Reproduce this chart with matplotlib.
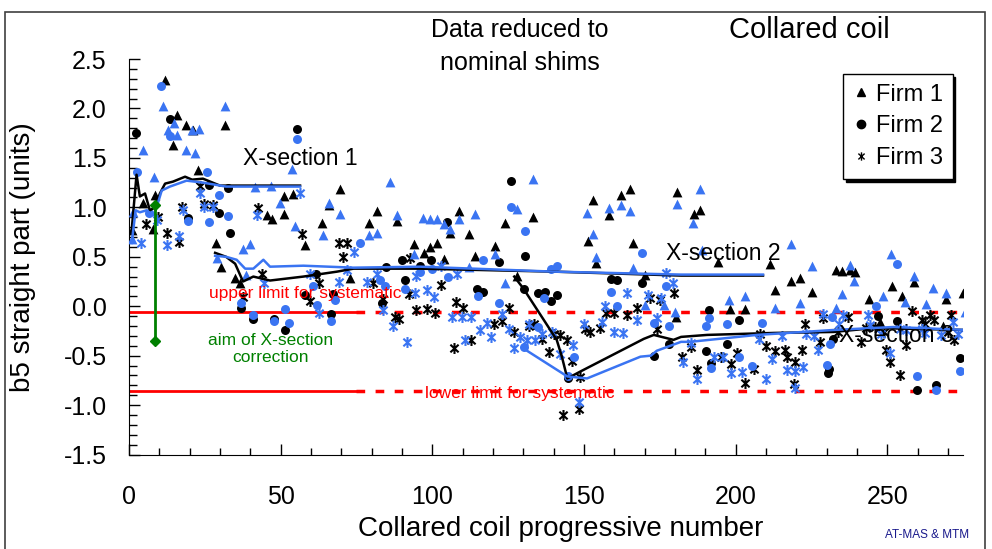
import numpy as np
import matplotlib.pyplot as plt
from matplotlib.lines import Line2D
from matplotlib.patches import Rectangle
from matplotlib.path import Path
from matplotlib.ticker import MultipleLocator

plt.rcParams['font.family'] = ['Liberation Sans', 'DejaVu Sans']

# Firm 1 (triangles): measured (black) and reduced to nominal shims (blue)
f1_black_x = [0.9, 4.7, 7.8, 8.6, 11.9, 14.6, 15.9, 18.8, 21.0, 22.9, 28.7, 30.3, 31.7, 35.0, 36.5,
              45.4, 47.0, 51.0, 51.0, 54.0, 58.1, 63.6, 65.8, 69.6, 72.9, 79.0, 81.7, 88.3, 93.9,
              97.1, 99.1, 101.7, 104.0, 105.7, 108.8, 112.0, 114.0, 120.8, 123.9, 128.0, 133.1,
              151.3, 152.9, 154.1, 158.2, 162.3, 165.1, 166.2, 170.0, 180.2, 180.8, 186.3, 188.1,
              194.2, 198.2, 203.0, 211.3, 212.9, 218.1, 221.2, 225.0, 233.0, 234.9, 237.8, 239.3,
              244.0, 247.5, 251.6, 254.9, 258.8, 268.2, 269.3, 275.0]
f1_black_y = [0.77, 1.04, 0.78, 1.12, 2.29, 1.63, 1.93, 1.83, 1.78, 1.38, 0.64, 0.40, 1.83, 0.29, 0.24,
              0.92, 0.88, 0.93, 1.11, 1.14, 0.62, 0.84, 1.02, 1.19, 0.29, 0.84, 0.96, 0.86, 0.63,
              0.54, 0.60, 0.64, 0.48, 0.74, 0.96, 0.73, 0.51, 0.61, 0.84, 0.31, 0.90,
              0.66, 1.07, 0.44, 0.92, 1.12, 1.19, 0.64, 0.32, -0.11, 1.16, 0.93, 0.97,
              0.45, -0.03, -0.03, 0.43, 0.16, 0.26, 0.29, 0.14, 0.37, 0.36, 0.37, 0.35,
              0.07, -0.16, 0.20, 0.10, 0.25, -0.20, 0.07, 0.13]
f1_blue_x = [0.9, 1.4, 4.7, 8.4, 11.3, 13.0, 14.9, 16.0, 18.8, 20.7, 21.8, 23.1, 28.9, 31.7, 37.5,
             38.6, 39.9, 41.6, 46.8, 49.8, 53.7, 54.8, 63.8, 66.1, 69.6, 79.0, 81.7, 85.9, 88.3,
             93.9, 96.9, 99.1, 101.7, 104.0, 105.7, 108.7, 112.0, 114.0, 120.8, 124.1, 128.0,
             133.2, 151.1, 153.1, 154.1, 158.2, 162.3, 165.1, 166.2, 170.0, 176.2, 180.0, 180.8,
             186.0, 188.2, 188.9, 197.9, 203.0, 212.9, 218.1, 221.2, 225.0, 233.1, 234.9, 237.8,
             239.0, 248.4, 251.3, 255.7, 258.8, 262.8, 265.1, 269.3, 275.7]
f1_blue_y = [0.68, 0.95, 1.58, 1.31, 2.02, 1.78, 1.85, 1.73, 1.58, 1.78, 1.55, 1.79, 0.49, 2.02, 0.58,
             0.32, 0.63, 1.21, 1.22, 1.04, 1.39, 0.81, 0.72, 1.04, 0.93, 0.72, 0.74, 1.26, 0.92,
             0.53, 0.89, 0.88, 0.88, 0.83, 0.78, 0.88, 0.40, 0.93, 0.53, 0.24, 0.98,
             1.29, 0.94, 0.73, 0.50, 0.99, 1.02, 0.96, 0.39, 0.01, 0.01, -0.06, 1.03,
             0.84, 1.19, 0.57, 0.06, 0.10, -0.02, 0.63, 0.03, 0.41, -0.02, 0.12, 0.42,
             0.26, 0.10, 0.53, 0.04, 0.31, 0.02, 0.18, 0.13, -0.06]

# Firm 2 (circles)
f2_black_x = [2.4, 13.5, 19.6, 26.5, 29.8, 32.8, 33.3, 36.9, 40.8, 47.8, 51.5, 55.3, 58.1, 61.8,
              66.6, 67.4, 83.4, 84.6, 90.0, 91.1, 95.8, 99.7, 104.8, 114.7, 116.7, 121.9, 126.0,
              130.2, 130.7, 134.8, 137.0, 139.0, 141.2, 144.7, 158.8, 161.0, 169.1, 173.2, 178.0,
              190.3, 191.2, 191.9, 197.0, 201.1, 230.3, 230.9, 232.2, 246.9, 253.1, 259.9, 266.1,
              273.8]
f2_black_y = [1.75, 1.89, 0.89, 1.23, 0.94, 1.20, 0.74, -0.02, -0.13, -0.13, -0.24, 1.79, 0.11, 0.33,
              -0.08, 0.12, 0.03, 0.40, 0.47, 0.27, 0.41, 0.47, 0.85, 0.17, 0.14, 0.45, 1.27,
              0.17, 0.51, 0.13, 0.14, 0.05, 0.11, -0.73, 0.28, 0.27, 0.23, -0.50, -0.38,
              -0.45, -0.04, -0.57, -0.38, -0.14, -0.68, -0.63, -0.33, -0.10, -0.15, -0.85, -0.80,
              -0.52]
f2_blue_x = [2.5, 6.7, 10.4, 13.4, 19.6, 25.6, 26.4, 29.7, 32.8, 36.9, 40.8, 47.8, 51.5, 52.6, 55.5,
             60.8, 61.9, 66.6, 68.0, 76.2, 82.8, 84.5, 91.1, 95.8, 99.9, 105.1, 115.0, 116.7, 121.9,
             126.0, 130.1, 130.7, 134.7, 136.8, 139.0, 141.2, 144.7, 146.8, 158.8, 161.0, 169.2,
             173.2, 176.9, 178.0, 190.1, 191.2, 192.0, 197.0, 201.1, 205.3, 208.8, 230.0, 231.2,
             231.9, 246.3, 253.1, 259.9, 266.1, 273.8]
f2_blue_y = [1.36, 0.94, 2.23, 1.72, 0.86, 1.36, 0.85, 1.12, 0.91, 0.03, -0.09, -0.15, -0.03, -0.17, 1.69,
             0.20, 0.01, -0.15, 0.06, 0.64, 0.27, 0.20, 0.17, 0.35, 0.38, 0.30, 0.10, 0.47, 0.03,
             1.00, -0.41, 0.76, -0.21, 0.08, 0.38, 0.41, -0.71, -0.51, 0.14, 0.00, 0.54,
             -0.17, 0.20, -0.20, -0.20, -0.12, -0.62, -0.18, -0.51, -0.60, -0.17, -0.59, -0.38,
             -0.11, 0.00, 0.43, -0.71, -0.85, -0.65]

# Firm 3 (asterisks)
f3_black_x = [5.6, 9.7, 12.7, 16.6, 17.4, 23.4, 24.8, 27.8, 37.5, 42.7, 44.0, 57.0, 59.7, 62.8, 69.1,
              70.5, 71.8, 80.5, 83.8, 87.8, 88.9, 92.2, 92.7, 94.6, 98.1, 100.9, 102.8, 107.0, 107.9,
              110.0, 112.7, 120.3, 123.0, 125.2, 126.8, 131.7, 133.6, 136.1, 138.4, 140.1, 142.2,
              143.0, 144.5, 146.1, 148.2, 148.8, 150.2, 151.9, 155.3, 157.4, 159.9, 164.2, 167.4,
              171.9, 174.1, 175.1, 179.5, 182.4, 185.1, 187.3, 195.0, 198.3, 200.5, 203.2, 206.0,
              208.1, 210.1, 213.1, 216.4, 216.9, 219.1, 219.6, 221.9, 223.0, 227.7, 228.8, 233.7,
              237.0, 241.3, 243.0, 245.8, 248.8, 249.6, 250.9, 254.0, 256.2, 258.1, 261.4, 262.5,
              263.9, 265.2, 270.1, 271.0, 272.1]
f3_black_y = [0.83, 0.90, 0.74, 0.65, 1.00, 1.22, 1.03, 1.02, 0.09, 0.99, 0.33, 0.73, 0.05, 0.23, 0.64,
              0.50, 0.64, 0.23, 0.07, -0.11, -0.13, 0.12, 0.49, -0.04, -0.03, -0.07, 0.21, -0.42, 0.04,
              -0.02, -0.34, -0.18, -0.15, -0.02, -0.26, -0.20, -0.18, -0.33, -0.46, -0.28, -0.29,
              -1.10, -0.34, -0.55, -1.04, -0.72, -0.23, -0.26, -0.22, -0.07, -0.07, -0.09, -0.02,
              0.08, -0.23, 0.06, 0.13, -0.51, -0.41, -0.64, -0.51, -0.58, -0.47, -0.78, -0.63,
              -0.28, -0.40, -0.45, -0.44, -0.51, -0.79, -0.56, -0.44, -0.18, -0.36, -0.12, -0.26,
              -0.11, -0.36, -0.22, -0.21, -0.26, -0.44, -0.56, -0.70, -0.39, -0.05, -0.14, -0.18,
              -0.09, -0.14, -0.26, -0.09, -0.34]
f3_blue_x = [3.9, 9.2, 12.5, 16.6, 17.7, 23.4, 24.8, 27.8, 42.1, 44.4, 56.4, 59.7, 62.8, 69.1, 71.8,
             74.1, 78.5, 81.7, 83.6, 87.1, 91.6, 94.3, 94.5, 98.1, 100.6, 102.9, 106.5, 108.2, 109.8,
             110.9, 112.8, 115.8, 118.0, 119.5, 123.0, 125.2, 126.8, 129.0, 131.2, 131.8, 134.0,
             136.2, 139.5, 142.2, 146.4, 148.2, 150.0, 156.0, 156.8, 159.9, 163.0, 164.1, 167.4,
             171.2, 173.9, 175.4, 176.9, 179.4, 182.7, 185.1, 187.3, 192.8, 195.9, 198.3, 202.2,
             207.8, 210.1, 212.0, 215.3, 216.9, 219.6, 219.6, 222.2, 223.2, 225.9, 227.1, 228.8,
             234.0, 235.3, 243.6, 244.2, 248.0, 251.0, 254.0, 256.2, 261.4, 262.5, 267.7, 271.5,
             273.2]
f3_blue_y = [0.64, 0.87, 0.62, 0.71, 0.97, 1.15, 1.00, 1.00, 0.92, 0.23, 1.15, 0.33, -0.07, 0.25, 0.37,
             0.55, 0.25, 0.33, -0.04, -0.20, -0.36, 0.13, 0.31, 0.16, 0.09, 0.41, -0.11, 0.33, -0.11,
             -0.34, -0.11, -0.24, -0.17, -0.31, -0.08, -0.23, -0.42, -0.31, -0.34, -0.18, -0.34,
             -0.28, -0.26, -0.48, -0.39, -0.97, -0.18, -0.16, 0.00, -0.26, -0.27, 0.13, -0.14,
             0.11, -0.12, 0.08, 0.34, 0.24, -0.56, -0.37, -0.74, -0.51, -0.51, -0.68, -0.67,
             -0.33, -0.74, -0.53, -0.30, -0.64, -0.65, -0.83, -0.61, -0.28, -0.30, -0.44, -0.08,
             -0.18, -0.09, -0.09, -0.19, -0.28, -0.47, -0.23, -0.24, -0.23, -0.27, -0.29, -0.16,
             -0.28]

# running averages per cross-section
xs1_x = [0.9, 2.5, 3.6, 5.3, 6.9, 8.6, 10.2, 11.9, 14.5, 18.5, 20.8, 24.4, 30.0, 56.4]
xs1_black = [0.77, 1.33, 1.11, 1.14, 0.97, 1.00, 1.14, 1.24, 1.26, 1.31, 1.28, 1.29, 1.22, 1.22]
xs1_bx = [0.9, 2.2, 3.6, 5.8, 8.0, 9.1, 10.8, 13.5, 19.0, 24.4, 32.0, 56.4]
xs1_blue = [0.64, 0.97, 0.95, 0.97, 0.92, 1.00, 1.17, 1.21, 1.27, 1.25, 1.21, 1.21]
xs2_x = [28.4, 32.0, 35.0, 37.6, 41.0, 46.5, 57.5, 68.6, 74.0, 96.0, 140.0, 182.0, 209.0]
xs2_black = [0.54, 0.50, 0.43, 0.25, 0.30, 0.26, 0.30, 0.35, 0.38, 0.38, 0.35, 0.31, 0.31]
xs2_bx = [28.4, 32.0, 35.5, 38.3, 41.0, 44.3, 46.5, 57.5, 74.0, 96.0, 140.0, 182.0, 209.0]
xs2_blue = [0.51, 0.50, 0.47, 0.38, 0.38, 0.47, 0.40, 0.41, 0.39, 0.40, 0.35, 0.32, 0.32]
xs3_x = [127.0, 130.0, 141.0, 142.7, 144.5, 148.8, 169.7, 173.0, 179.5, 182.0, 190.6, 212.6,
         232.3, 245.6, 276.0]
xs3_black = [0.30, 0.18, -0.34, -0.51, -0.73, -0.66, -0.33, -0.29, -0.34, -0.31, -0.29, -0.27,
             -0.26, -0.22, -0.24]
xs3_bx = [131.2, 144.5, 151.0, 168.6, 172.0, 174.0, 182.0, 185.0, 207.0, 232.3, 252.0, 276.0]
xs3_blue = [-0.45, -0.71, -0.73, -0.51, -0.50, -0.45, -0.36, -0.36, -0.29, -0.24, -0.21, -0.24]

# limits for systematic b5 and the correction aim
upper_limit = -0.06
lower_limit = -0.86
solid_end = 75
aim_x = 8.5
aim_top = 1.02
aim_bottom = -0.35

blue = '#3a74f2'

# asterisk like the original: vertical bar plus an X
star = Path([(0, -1), (0, 1), (-0.75, -0.7), (0.75, 0.7), (-0.75, 0.7), (0.75, -0.7)],
            [Path.MOVETO, Path.LINETO] * 3)

fig = plt.figure(figsize=(9.92, 5.49), dpi=100)
ax = fig.add_axes([0.130, 0.172, 0.841, 0.7205])

ax.scatter(f1_black_x, f1_black_y, marker='^', s=50, c='black', linewidths=0, zorder=3)
ax.scatter(f2_black_x, f2_black_y, marker='o', s=42, c='black', linewidths=0, zorder=3)
ax.scatter(f3_black_x, f3_black_y, marker=star, s=62, c='black', linewidths=1.5, zorder=3)
ax.scatter(f1_blue_x, f1_blue_y, marker='^', s=50, c=blue, linewidths=0, zorder=3)
ax.scatter(f2_blue_x, f2_blue_y, marker='o', s=42, c=blue, linewidths=0, zorder=3)
ax.scatter(f3_blue_x, f3_blue_y, marker=star, s=62, c=blue, linewidths=1.5, zorder=3)

ax.plot(xs1_x, xs1_black, color='black', lw=1.8, zorder=4)
ax.plot(xs1_bx, xs1_blue, color=blue, lw=1.8, zorder=4)
ax.plot(xs2_x, xs2_black, color='black', lw=1.8, zorder=4)
ax.plot(xs2_bx, xs2_blue, color=blue, lw=1.8, zorder=4)
ax.plot(xs3_x, xs3_black, color='black', lw=1.8, zorder=4)
ax.plot(xs3_bx, xs3_blue, color=blue, lw=1.8, zorder=4)

for lim in [upper_limit, lower_limit]:
    ax.plot([0, solid_end], [lim, lim], color='red', lw=2, zorder=2)
    ax.plot([solid_end, 275], [lim, lim], color='red', lw=2.5, ls=(0, (2.5, 3)), zorder=2)

ax.plot([aim_x, aim_x], [aim_top, aim_bottom], color='green', lw=2, zorder=5)
ax.plot([aim_x, aim_x], [aim_top, aim_bottom], color='green', lw=0, marker='D', ms=5, zorder=5)

ax.text(56.5, 1.49, 'X-section 1', fontsize=16.5, ha='center', va='center', zorder=6)
ax.text(196, 0.53, 'X-section 2', fontsize=16.5, ha='center', va='center', zorder=6)
ax.text(253, -0.3, 'X-section 3', fontsize=16.5, ha='center', va='center', zorder=6)
ax.text(58, 0.13, 'upper limit for systematic', fontsize=12.5, color='red',
        ha='center', va='center', zorder=6)
ax.text(129, -0.885, 'lower limit for systematic', fontsize=12.5, color='red',
        ha='center', va='center', zorder=6)
ax.text(46.7, -0.43, 'aim of X-section\ncorrection', fontsize=12.5, color='green',
        ha='center', va='center', linespacing=1.2, zorder=6)

ax.set_xlim(0, 275)
ax.set_ylim(-1.5, 2.5)
ax.xaxis.set_major_locator(MultipleLocator(50))
ax.xaxis.set_minor_locator(MultipleLocator(10))
ax.yaxis.set_minor_locator(MultipleLocator(0.1))
ax.set_yticks(np.arange(-1.5, 2.51, 0.5))
ax.set_yticklabels(['%.1f' % v for v in np.arange(-1.5, 2.51, 0.5)])
ax.tick_params(which='both', direction='in', labelsize=18, width=1)
ax.tick_params(axis='x', which='major', length=8, pad=22)
ax.tick_params(axis='x', which='minor', length=5)
ax.tick_params(axis='y', which='major', length=8, pad=16)
ax.tick_params(axis='y', which='minor', length=6)
for side in ['top', 'right']:
    ax.spines[side].set_visible(False)

ax.set_xlabel('Collared coil progressive number', fontsize=20)
ax.xaxis.set_label_coords(0.517, -0.155)
ax.set_ylabel('b5 straight part (units)', fontsize=20)
ax.yaxis.set_label_coords(-0.112, 0.5)

fig.text(0.524, 0.945, 'Data reduced to', fontsize=18, ha='center', va='center')
fig.text(0.524, 0.885, 'nominal shims', fontsize=18, ha='center', va='center')
fig.text(0.816, 0.945, 'Collared coil', fontsize=21, ha='center', va='center')
fig.text(0.935, 0.025, 'AT-MAS & MTM', fontsize=8.5, color='#1a1a8c', ha='center', va='center')

handles = [Line2D([], [], ls='none', marker='^', color='black', ms=6),
           Line2D([], [], ls='none', marker='o', color='black', ms=6),
           Line2D([], [], ls='none', marker=star, color='black', ms=6, mew=1)]
leg = fig.legend(handles, ['Firm 1', 'Firm 2', 'Firm 3'], loc='upper left',
                 bbox_to_anchor=(0.85, 0.865), fontsize=17, frameon=True, fancybox=False,
                 shadow={'color': 'black', 'alpha': 1}, edgecolor='black', handlelength=0.7,
                 handletextpad=0.3, labelspacing=0.42, borderpad=0.4, borderaxespad=0)
leg.get_frame().set_linewidth(1)

fig.patches.append(Rectangle((0.005, -0.01), 0.988, 0.988, transform=fig.transFigure,
                             fill=False, edgecolor='#404040', lw=1.2))

fig.savefig('out.png', dpi=100)
